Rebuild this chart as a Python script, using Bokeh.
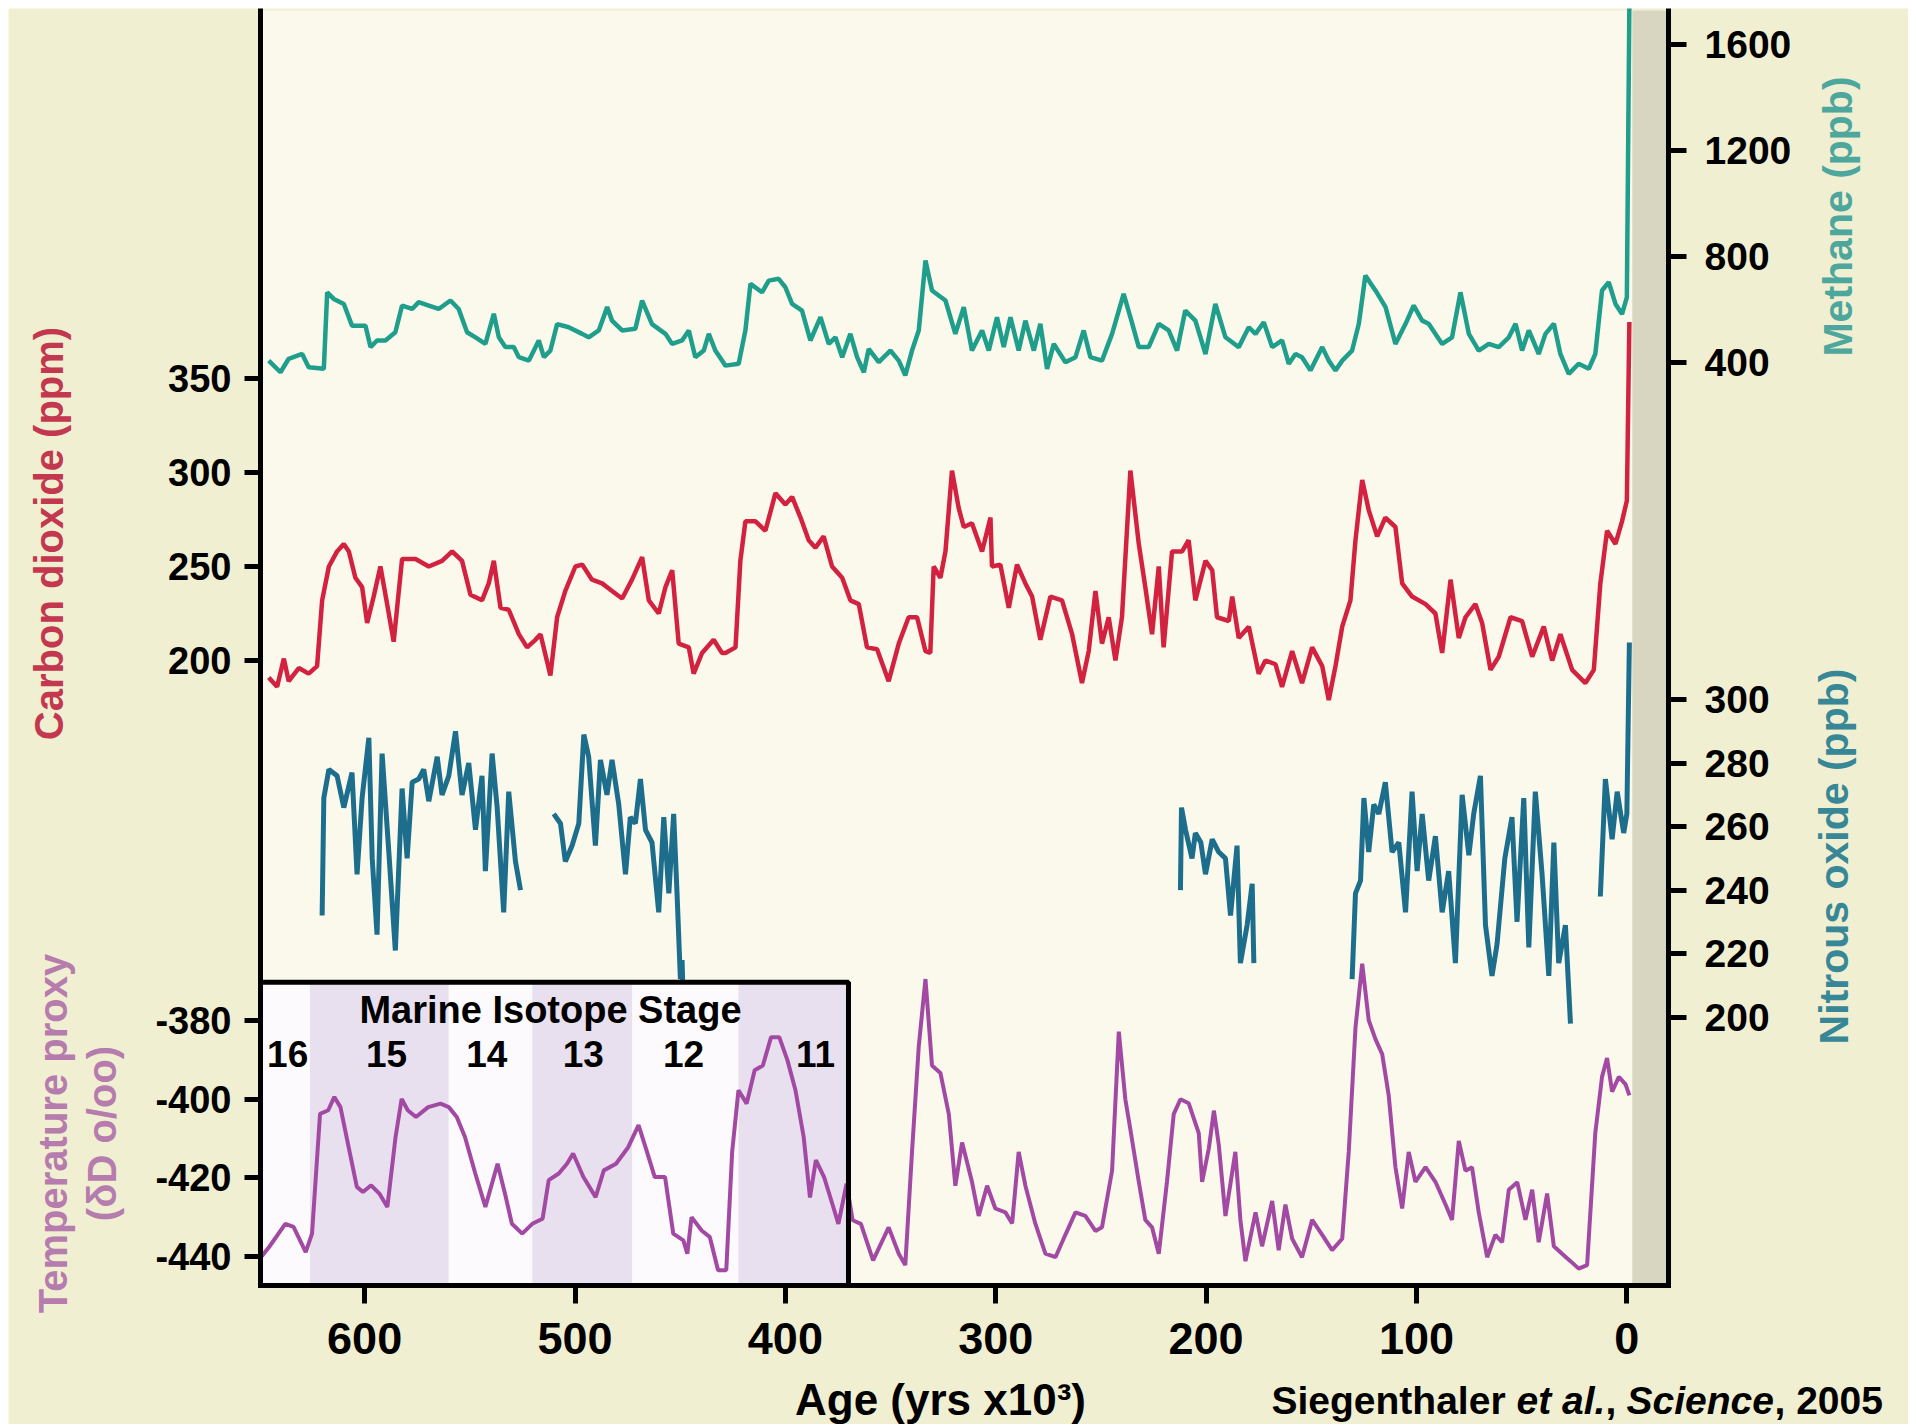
import math
from bokeh.plotting import figure
from bokeh.models import Range1d, LinearAxis, FixedTicker, Label, Spacer
from bokeh.layouts import row, column
from bokeh.embed import file_html
from bokeh.resources import INLINE

# ---------------------------------------------------------------- data
co2_age = [645.6, 641.6, 638.4, 636.1, 631.3, 626.6, 622.6, 620.2, 617.0, 613.1,
           609.9, 607.5, 604.4, 601.2, 598.8, 595.7, 592.5, 589.3, 586.2, 582.2,
           575.8, 569.5, 563.2, 558.4, 553.7, 549.7, 544.2, 541.0, 538.6, 535.4,
           531.5, 526.7, 522.8, 518.8, 516.4, 511.7, 508.5, 504.6, 499.8, 496.6,
           491.9, 487.1, 482.4, 477.6, 472.9, 468.1, 464.9, 460.2, 457.0, 453.8,
           450.7, 445.9, 443.6, 439.6, 434.1, 430.1, 428.5, 423.7, 421.4, 419.0,
           414.2, 409.5, 404.7, 400.0, 396.8, 392.8, 388.9, 385.7, 381.8, 377.8,
           373.0, 369.1, 365.1, 361.2, 356.4, 350.9, 346.1, 341.4, 337.4, 333.4,
           331.1, 329.5, 326.3, 323.9, 320.8, 317.6, 315.2, 311.3, 306.5, 302.5,
           301.8, 297.8, 293.8, 289.9, 285.9, 282.7, 278.8, 274.0, 268.5, 263.7,
           259.0, 255.8, 252.6, 249.5, 246.3, 243.1, 240.0, 236.0, 232.0, 228.9,
           225.7, 222.5, 220.2, 216.2, 211.4, 208.3, 205.1, 200.3, 197.1, 194.8,
           189.2, 187.6, 184.5, 179.7, 175.0, 171.8, 167.0, 163.9, 159.1, 154.4,
           149.6, 144.8, 141.7, 138.5, 135.3, 131.4, 129.0, 125.8, 122.7, 118.7,
           114.8, 110.0, 106.8, 102.1, 95.7, 91.0, 87.8, 83.8, 79.9, 76.7,
           72.0, 68.8, 64.8, 60.9, 55.3, 49.8, 45.0, 39.5, 35.5, 31.6,
           26.0, 19.7, 15.7, 12.6, 9.4, 5.4, 2.3, 0.0, -1.2]
co2_ppm = [191, 186, 201, 189, 196, 193, 197, 232, 250, 258,
           262, 258, 244, 239, 220, 234, 250, 230, 210, 254,
           254, 250, 253, 258, 253, 235, 232, 241, 253, 228,
           227, 214, 207, 211, 214, 192, 223, 237, 250, 251,
           243, 241, 237, 233, 243, 255, 232, 225, 239, 248,
           209, 207, 193, 204, 211, 204, 204, 207, 253, 274,
           274, 269, 289, 283, 287, 276, 264, 260, 266, 250,
           244, 232, 230, 207, 206, 189, 209, 223, 223, 205,
           204, 250, 244, 258, 301, 281, 271, 273, 258, 276,
           250, 251, 228, 251, 241, 234, 211, 234, 232, 214,
           188, 205, 237, 209, 223, 200, 223, 301, 262, 239,
           214, 250, 207, 258, 258, 264, 232, 253, 248, 223,
           221, 234, 212, 218, 193, 200, 198, 186, 205, 188,
           207, 197, 179, 197, 218, 232, 264, 296, 280, 266,
           276, 271, 241, 234, 230, 225, 204, 243, 212, 223,
           230, 220, 195, 202, 223, 221, 202, 218, 200, 214,
           195, 188, 195, 241, 269, 262, 274, 285, 380]

ch4_age = [645.6, 640.0, 636.1, 629.7, 626.6, 619.4, 617.8, 614.7, 609.9, 606.0,
           599.6, 597.2, 594.1, 590.1, 585.4, 582.2, 577.4, 574.3, 569.5, 564.8,
           559.2, 555.3, 551.3, 547.3, 542.6, 538.6, 536.2, 533.1, 529.1, 526.7,
           521.9, 517.2, 514.8, 511.7, 508.5, 503.0, 496.6, 493.5, 488.7, 484.7,
           482.4, 477.6, 471.3, 468.1, 463.4, 457.0, 453.8, 449.1, 445.9, 442.8,
           438.8, 436.4, 433.3, 430.1, 428.5, 422.2, 419.0, 416.6, 411.1, 407.9,
           403.2, 400.0, 396.8, 392.1, 388.1, 383.3, 379.4, 376.2, 373.0, 369.1,
           365.9, 362.7, 360.4, 355.6, 350.1, 346.1, 343.0, 339.8, 336.6, 333.4,
           330.3, 323.9, 319.2, 315.2, 311.3, 306.5, 303.3, 299.4, 296.2, 293.0,
           289.1, 285.9, 281.9, 278.8, 275.6, 272.4, 266.9, 262.1, 258.2, 255.0,
           249.5, 244.7, 239.2, 236.0, 232.0, 227.3, 222.5, 217.8, 213.8, 209.9,
           205.1, 200.3, 195.6, 190.8, 184.5, 179.7, 176.5, 172.6, 168.6, 163.9,
           160.7, 157.5, 154.4, 150.4, 144.8, 141.7, 138.5, 135.3, 130.6, 127.4,
           124.3, 119.5, 114.7, 110.0, 105.2, 101.3, 97.3, 94.2, 87.8, 83.1,
           79.1, 75.1, 70.4, 65.6, 60.9, 56.1, 52.9, 49.8, 46.6, 41.9,
           38.7, 34.7, 31.6, 27.6, 22.9, 18.1, 15.0, 11.8, 8.6, 5.4,
           2.3, 0.0, -1.2]
ch4_ppb = [406, 362, 413, 431, 381, 375, 664, 639, 620, 538,
           538, 457, 482, 482, 513, 614, 601, 627, 614, 601,
           633, 601, 513, 494, 469, 583, 494, 457, 457, 419,
           406, 482, 419, 444, 544, 532, 507, 494, 520, 608,
           557, 520, 526, 633, 544, 507, 469, 482, 520, 419,
           444, 507, 444, 406, 387, 394, 520, 696, 664, 708,
           715, 683, 620, 595, 482, 570, 469, 494, 419, 507,
           419, 362, 450, 400, 444, 406, 350, 444, 520, 784,
           671, 633, 507, 608, 444, 520, 444, 570, 457, 570,
           444, 557, 444, 545, 375, 469, 400, 419, 520, 419,
           406, 507, 658, 570, 457, 457, 545, 520, 444, 595,
           557, 431, 620, 494, 457, 532, 507, 551, 457, 482,
           394, 431, 419, 369, 457, 406, 369, 406, 444, 545,
           727, 671, 608, 469, 545, 614, 557, 545, 469, 494,
           664, 507, 444, 469, 457, 494, 545, 444, 520, 431,
           507, 545, 431, 356, 394, 375, 431, 671, 702, 620,
           582, 645, 1750]

n2o_age_1 = [620.2, 619.4, 617.0, 613.1, 609.9, 606.0, 603.6, 601.2, 598.0, 596.4,
             594.1, 591.7, 588.5, 585.4, 582.2, 579.8, 577.4, 574.3, 571.9, 569.5,
             565.5, 563.2, 560.0, 556.8, 553.7, 550.5, 547.3, 544.2, 542.6, 539.4,
             537.0, 533.9, 531.5, 528.3, 525.9]
n2o_ppb_1 = [232, 269, 278, 276, 266, 277, 245, 269, 288, 250,
             226, 283, 252, 221, 272, 250, 274, 275, 278, 268,
             282, 270, 276, 290, 270, 280, 259, 276, 246, 283,
             266, 233, 271, 249, 240]
n2o_age_2 = [510.1, 506.9, 504.6, 501.4, 498.2, 495.8, 493.5, 490.3, 487.9, 484.8,
             482.4, 479.2, 476.0, 473.7, 471.3, 468.9, 466.5, 463.4, 460.2, 457.8,
             455.4, 453.1, 451.5, 449.9, 449.1, 448.6]
n2o_ppb_2 = [264, 261, 249, 254, 261, 289, 282, 254, 281, 270,
             281, 267, 245, 263, 261, 275, 259, 255, 233, 263,
             239, 264, 239, 212, 218, 206]
n2o_age_3 = [212.2, 211.7, 209.8, 206.7, 205.1, 202.5, 200.3, 197.1, 194.0, 190.8,
             188.4, 185.3, 183.7, 180.5, 178.1, 177.3]
n2o_ppb_3 = [240, 266, 259, 250, 258, 255, 245, 256, 252, 250,
             232, 254, 217, 229, 242, 217]
n2o_age_4 = [130.6, 129.0, 126.6, 125.0, 122.7, 120.3, 117.9, 114.8, 111.6, 108.4,
             105.2, 102.1, 99.7, 97.3, 94.2, 91.0, 87.8, 84.7, 81.5, 78.3,
             75.1, 72.8, 69.6, 67.2, 64.1, 61.7, 58.0, 54.6, 52.2, 49.0,
             46.6, 43.5, 40.3, 37.1, 34.7, 32.4, 29.2, 26.8]
n2o_ppb_4 = [212, 239, 243, 269, 252, 267, 264, 274, 252, 255,
             233, 271, 246, 264, 243, 257, 233, 246, 217, 270,
             251, 264, 276, 229, 213, 223, 250, 263, 230, 269,
             222, 271, 245, 213, 255, 217, 229, 198]
n2o_age_5 = [12.6, 10.2, 7.0, 4.6, 1.5, 0.0, -1.2]
n2o_ppb_5 = [238, 275, 256, 271, 258, 264, 318]

temp_age = [649.0, 645.4, 637.7, 633.8, 628.0, 625.0, 621.2, 617.3, 614.4, 611.5,
            607.6, 603.7, 600.8, 596.9, 593.0, 589.2, 585.3, 582.4, 579.5, 575.6,
            569.8, 563.9, 560.0, 556.2, 552.3, 547.4, 542.6, 536.8, 532.9, 530.0,
            525.1, 520.3, 515.4, 512.5, 507.7, 503.8, 500.9, 496.0, 490.2, 486.3,
            480.5, 474.7, 469.8, 466.0, 462.1, 457.2, 453.3, 448.5, 446.6, 444.6,
            439.8, 435.9, 432.0, 428.1, 425.3, 422.3, 418.4, 414.6, 410.7, 406.8,
            402.9, 399.0, 395.2, 391.3, 388.3, 385.5, 381.6, 377.7, 374.8, 370.9,
            368.0, 364.1, 358.3, 350.9, 346.1, 343.0, 339.8, 336.6, 333.4, 330.3,
            326.3, 322.3, 319.2, 316.0, 311.3, 308.1, 304.1, 300.2, 295.4, 292.2,
            289.1, 285.9, 281.2, 276.4, 271.6, 266.9, 262.1, 257.4, 252.6, 249.5,
            244.7, 241.5, 238.4, 236.0, 232.0, 228.9, 225.7, 222.5, 218.6, 215.4,
            212.2, 208.3, 203.5, 201.9, 198.7, 196.3, 194.0, 190.8, 186.1, 183.7,
            181.3, 176.5, 173.4, 168.6, 165.5, 162.3, 159.1, 154.4, 149.6, 144.8,
            140.1, 135.3, 132.2, 129.0, 125.8, 122.7, 119.5, 116.3, 113.2, 110.0,
            106.8, 103.7, 100.5, 95.7, 91.0, 86.2, 83.1, 79.9, 76.7, 73.6,
            70.4, 66.4, 62.5, 59.3, 56.1, 52.1, 48.2, 45.0, 41.9, 37.9,
            34.7, 30.8, 26.8, 22.9, 18.9, 15.0, 11.8, 9.4, 7.0, 3.8,
            0.6, -1.2]
temp_dD = [-440.0, -437.6, -431.7, -432.5, -438.9, -434.2, -403.7, -402.8, -399.4, -402.0,
           -412.2, -422.3, -423.6, -421.9, -424.0, -427.4, -409.6, -399.9, -402.8, -404.5,
           -402.0, -401.1, -402.0, -404.5, -409.6, -418.9, -427.4, -416.4, -424.9, -431.7,
           -434.2, -431.7, -430.4, -420.6, -418.9, -416.4, -413.8, -419.8, -424.9, -418.1,
           -416.4, -412.2, -406.6, -413.0, -419.8, -419.8, -434.2, -435.9, -439.3, -430.0,
           -433.4, -435.1, -443.5, -443.5, -413.4, -397.7, -401.1, -392.6, -391.4, -384.2,
           -384.2, -390.1, -397.7, -409.6, -425.0, -415.5, -419.8, -426.6, -431.7, -421.5,
           -430.8, -431.7, -441.0, -432.6, -439.3, -442.2, -413.4, -386.6, -369.4, -391.4,
           -393.3, -403.8, -422.0, -411.0, -421.0, -429.7, -422.0, -427.8, -428.8, -431.6,
           -413.4, -422.0, -431.6, -439.3, -440.2, -434.5, -428.8, -429.7, -433.5, -432.6,
           -418.2, -382.8, -400.0, -407.7, -421.0, -430.7, -432.6, -439.3, -421.0, -403.8,
           -400.0, -401.0, -408.6, -421.0, -412.5, -402.9, -411.5, -429.7, -413.4, -430.7,
           -441.2, -428.8, -437.4, -425.9, -438.4, -426.8, -435.5, -440.2, -430.7, -434.5,
           -438.4, -435.5, -413.4, -381.8, -365.5, -379.9, -384.7, -388.5, -399.0, -417.3,
           -427.8, -413.4, -421.0, -417.3, -421.0, -426.8, -430.7, -410.6, -418.2, -417.3,
           -428.8, -440.2, -434.5, -436.4, -423.0, -421.1, -430.7, -423.0, -436.4, -424.0,
           -437.4, -439.3, -441.2, -443.1, -442.2, -408.6, -394.3, -389.5, -398.1, -394.3,
           -396.2, -399.0]

co2_ticks = [200, 250, 300, 350]
temp_ticks = [-440, -420, -400, -380]
ch4_ticks = [400, 800, 1200, 1600]
n2o_ticks = [200, 220, 240, 260, 280, 300]
age_ticks = [0, 100, 200, 300, 400, 500, 600]

mis_stage = ["16", "15", "14", "13", "12", "11"]
mis_older = [649.5, 626, 560, 520.3, 472.8, 422.3]
mis_younger = [626, 560, 520.3, 472.8, 422.3, 370]
mis_label_age = [636.6, 589.6, 541.9, 496.1, 448.4, 385.7]
mis_box_top = -370.2          # top of the inset box, in temperature units
present_band_start = -2.6     # shaded "present" strip, from here to the right edge

# ---------------------------------------------------------------- geometry (page pixels)
CAN_L, CAN_T, CAN_W, CAN_H = 8, 8, 1900, 1416
CAN_R, CAN_B = CAN_L + CAN_W, CAN_T + CAN_H
FR_L, FR_R, FR_T, FR_B = 260, 1668, 10, 1285   # plot box edges
# data values at the plot box edges
X_OLD, X_NEW = 649.5, -19.8
CO2_LO, CO2_HI = -132.4, 545.7
CH4_LO, CH4_HI = -3087.4, 1728.4
N2O_LO, N2O_HI = 115.5, 517.0
T_LO, T_HI = -447.4, -122.9


def lin(v0, v1, p0, p1):
    return lambda px: v0 + (px - p0) / (p1 - p0) * (v1 - v0)


xv = lin(X_OLD, X_NEW, FR_L, FR_R)
co2v = lin(CO2_LO, CO2_HI, FR_B, FR_T)
ch4v = lin(CH4_LO, CH4_HI, FR_B, FR_T)
n2ov = lin(N2O_LO, N2O_HI, FR_B, FR_T)
tv = lin(T_LO, T_HI, FR_B, FR_T)

OUTER = "#f1efd2"
INNER = "#fbf9ec"
C_CH4 = "#1f9e8c"
C_CO2 = "#d3223f"
C_N2O = "#1d6e8c"
C_T = "#a24aa3"
FONT = "Liberation Sans"

p = figure(width=CAN_W, height=CAN_H, min_border=0,
           x_range=Range1d(xv(CAN_L), xv(CAN_R)),
           y_range=Range1d(co2v(CAN_B), co2v(CAN_T)),
           output_backend="svg", toolbar_location=None,
           background_fill_color=OUTER, border_fill_color=OUTER,
           outline_line_color=None)
p.extra_y_ranges = {"ch4": Range1d(ch4v(CAN_B), ch4v(CAN_T)),
                    "n2o": Range1d(n2ov(CAN_B), n2ov(CAN_T)),
                    "temp": Range1d(tv(CAN_B), tv(CAN_T))}
p.xgrid.visible = False
p.ygrid.visible = False


def style_axis(ax, size, tick_out, standoff):
    ax.axis_line_width = 5
    ax.axis_line_color = "black"
    ax.axis_line_cap = "square"
    ax.major_tick_line_width = 5
    ax.major_tick_line_color = "black"
    ax.major_tick_in = 0
    ax.major_tick_out = tick_out
    ax.minor_tick_line_color = None
    ax.major_label_standoff = standoff
    ax.major_label_text_font = FONT
    ax.major_label_text_font_style = "bold"
    ax.major_label_text_font_size = f"{size}px"
    ax.major_label_text_color = "black"


# left axis: CO2 ticks and temperature ticks share the same line
temp_pos = [round(CO2_LO + (t - T_LO) / (T_HI - T_LO) * (CO2_HI - CO2_LO), 4) for t in temp_ticks]
left = p.yaxis[0]
left.fixed_location = X_OLD
left.bounds = (CO2_LO, CO2_HI)
left.ticker = FixedTicker(ticks=[float(v) for v in co2_ticks] + temp_pos)
ov = {float(v): str(v) for v in co2_ticks}
ov.update({pos: str(t) for pos, t in zip(temp_pos, temp_ticks)})
left.major_label_overrides = ov
style_axis(left, 38, 16, 13)

# right axis: methane and nitrous oxide ticks share the same line
n2o_pos = [round(CH4_LO + (n - N2O_LO) / (N2O_HI - N2O_LO) * (CH4_HI - CH4_LO), 4) for n in n2o_ticks]
rov = {float(v): str(v) for v in ch4_ticks}
rov.update({pos: str(n) for pos, n in zip(n2o_pos, n2o_ticks)})
right = LinearAxis(y_range_name="ch4", fixed_location=X_NEW, bounds=(CH4_LO, CH4_HI),
                   ticker=FixedTicker(ticks=[float(v) for v in ch4_ticks] + n2o_pos),
                   major_label_overrides=rov)
style_axis(right, 39, 18, 18)
p.add_layout(right, "right")

bottom = p.xaxis[0]
bottom.fixed_location = CO2_LO
bottom.bounds = (min(X_OLD, X_NEW), max(X_OLD, X_NEW))
bottom.ticker = FixedTicker(ticks=age_ticks)
style_axis(bottom, 45, 18, 19)

# ---------------------------------------------------------------- glyphs
p.quad(left=[X_OLD], right=[X_NEW], bottom=[CO2_LO], top=[CO2_HI],
       fill_color=INNER, line_color=None)
p.quad(left=[present_band_start], right=[X_NEW], bottom=[CO2_LO], top=[CO2_HI],
       fill_color="#d8d5c1", line_color=None)

for a, v in [(n2o_age_1, n2o_ppb_1), (n2o_age_2, n2o_ppb_2), (n2o_age_3, n2o_ppb_3),
             (n2o_age_4, n2o_ppb_4), (n2o_age_5, n2o_ppb_5)]:
    p.line(a, v, y_range_name="n2o", line_color=C_N2O, line_width=5)

band_colors = ["#e8e0ee" if int(s) % 2 else "#fcfafc" for s in mis_stage]
p.quad(left=mis_older, right=mis_younger,
       top=[mis_box_top] * len(mis_stage), bottom=[T_LO] * len(mis_stage),
       fill_color=band_colors, line_color=None, y_range_name="temp")

p.line(temp_age, temp_dD, y_range_name="temp", line_color=C_T, line_width=4)
p.line(co2_age, co2_ppm, line_color=C_CO2, line_width=4.5)
p.line(ch4_age, ch4_ppb, y_range_name="ch4", line_color=C_CH4, line_width=4.5)

p.quad(left=[X_OLD], right=[mis_younger[-1]], top=[mis_box_top], bottom=[T_LO],
       fill_color=None, line_color="black", line_width=5, y_range_name="temp")


# ---------------------------------------------------------------- texts
def put(text, px, py, size, color="black", angle=0.0, align="center",
        style="bold", x=None):
    p.add_layout(Label(x=xv(px) if x is None else x, y=co2v(py), text=text,
                       text_font=FONT, text_font_size=f"{size}px",
                       text_font_style=style, text_color=color, angle=angle,
                       text_align=align, text_baseline="middle"))


put("Marine Isotope Stage", 550, 1009, 38)
for s, a in zip(mis_stage, mis_label_age):
    put(s, 0, 1053, 37, x=a)

put("Carbon dioxide (ppm)", 48, 533, 40, "#c3374f", math.pi / 2)
put("Temperature proxy", 52, 1133, 40, "#b67cae", math.pi / 2)
put("(\u03b4D o/oo)", 101, 1133, 40, "#b67cae", math.pi / 2)
put("Methane (ppb)", 1837, 216, 41, "#4ea79d", math.pi / 2)
put("Nitrous oxide (ppb)", 1833, 856, 41, "#378797", math.pi / 2)

put("Age (yrs x10\u00b3)", 940, 1399, 44)
put("Siegenthaler ", 1271, 1400, 39, align="left")
put("et al.", 1516, 1400, 39, align="left", style="bold italic")
put(",", 1605, 1400, 39, align="left")
put("Science", 1626, 1400, 39, align="left", style="bold italic")
put(", 2005", 1774, 1400, 39, align="left")

layout = column(Spacer(height=CAN_T), row(Spacer(width=CAN_L), p))
open("out.html", "w").write(file_html(layout, INLINE))
